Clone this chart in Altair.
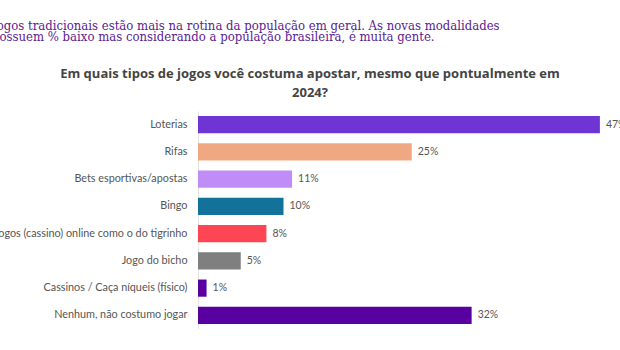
import altair as alt
import pandas as pd

categories = [
    "Loterias",
    "Rifas",
    "Bets esportivas/apostas",
    "Bingo",
    "Jogos (cassino) online como o do tigrinho",
    "Jogo do bicho",
    "Cassinos / Caça níqueis (físico)",
    "Nenhum, não costumo jogar",
]
values = [47, 25, 11, 10, 8, 5, 1, 32]
labels = ["47%", "25%", "11%", "10%", "8%", "5%", "1%", "32%"]
colors = ["#6f35d4", "#f0a882", "#c08cf8", "#12729a", "#fd4553", "#7f7f7f", "#5800a0", "#5800a0"]

header_lines = [
    "Jogos tradicionais estão mais na rotina da população em geral. As novas modalidades",
    "possuem % baixo mas considerando a população brasileira, é muita gente.",
]
title_lines = [
    "Em quais tipos de jogos você costuma apostar, mesmo que pontualmente em",
    "2024?",
]

df = pd.DataFrame({"cat": categories, "val": values, "lab": labels, "col": colors})

W = 419
H = 218
LEFT = 198
TOP = 111

y_enc = alt.Y(
    "cat:N",
    sort=categories,
    title=None,
    scale=alt.Scale(paddingInner=0.37, paddingOuter=0.185),
    axis=alt.Axis(
        ticks=False,
        domain=True,
        domainColor="#e3e3e3",
        labelFont="Lato",
        labelFontSize=10.8,
        labelColor="#555555",
        labelPadding=11,
        labelLimit=0,
    ),
)
x_enc = alt.X("val:Q", scale=alt.Scale(domain=[0, 49]), axis=None)

bars = alt.Chart(df).mark_bar().encode(
    x=x_enc, y=y_enc, color=alt.Color("col:N", scale=None)
)
vals = alt.Chart(df).mark_text(
    align="left", dx=6, font="Lato", fontSize=10.5, color="#555555"
).encode(x=x_enc, y=y_enc, text="lab:N")

hdf = pd.DataFrame({"t": header_lines, "yy": [30 - TOP, 41 - TOP]})
header = alt.Chart(hdf).mark_text(
    align="left", baseline="alphabetic", font="DejaVu Serif Condensed, Liberation Serif", fontSize=13, color="#5a2290"
).encode(x=alt.value(-8 - LEFT), y=alt.Y("yy:Q", scale=None), text="t:N")

tdf = pd.DataFrame({"t": title_lines, "yy": [77.5 - TOP, 96.5 - TOP]})
title = alt.Chart(tdf).mark_text(
    align="center", baseline="alphabetic", font="Open Sans", fontWeight="bold", fontSize=13, color="#444444"
).encode(x=alt.value(310 - LEFT), y=alt.Y("yy:Q", scale=None), text="t:N")

chart = (
    alt.layer(bars, vals, header, title)
    .properties(
        width=W,
        height=H,
        autosize=alt.AutoSizeParams(type="none"),
        padding={"left": LEFT, "top": TOP, "right": 620 - LEFT - W, "bottom": 350 - TOP - H},
        background="white",
    )
    .configure_view(stroke=None)
)

chart.save("out.html", embed_options={"renderer": "svg", "actions": False})
